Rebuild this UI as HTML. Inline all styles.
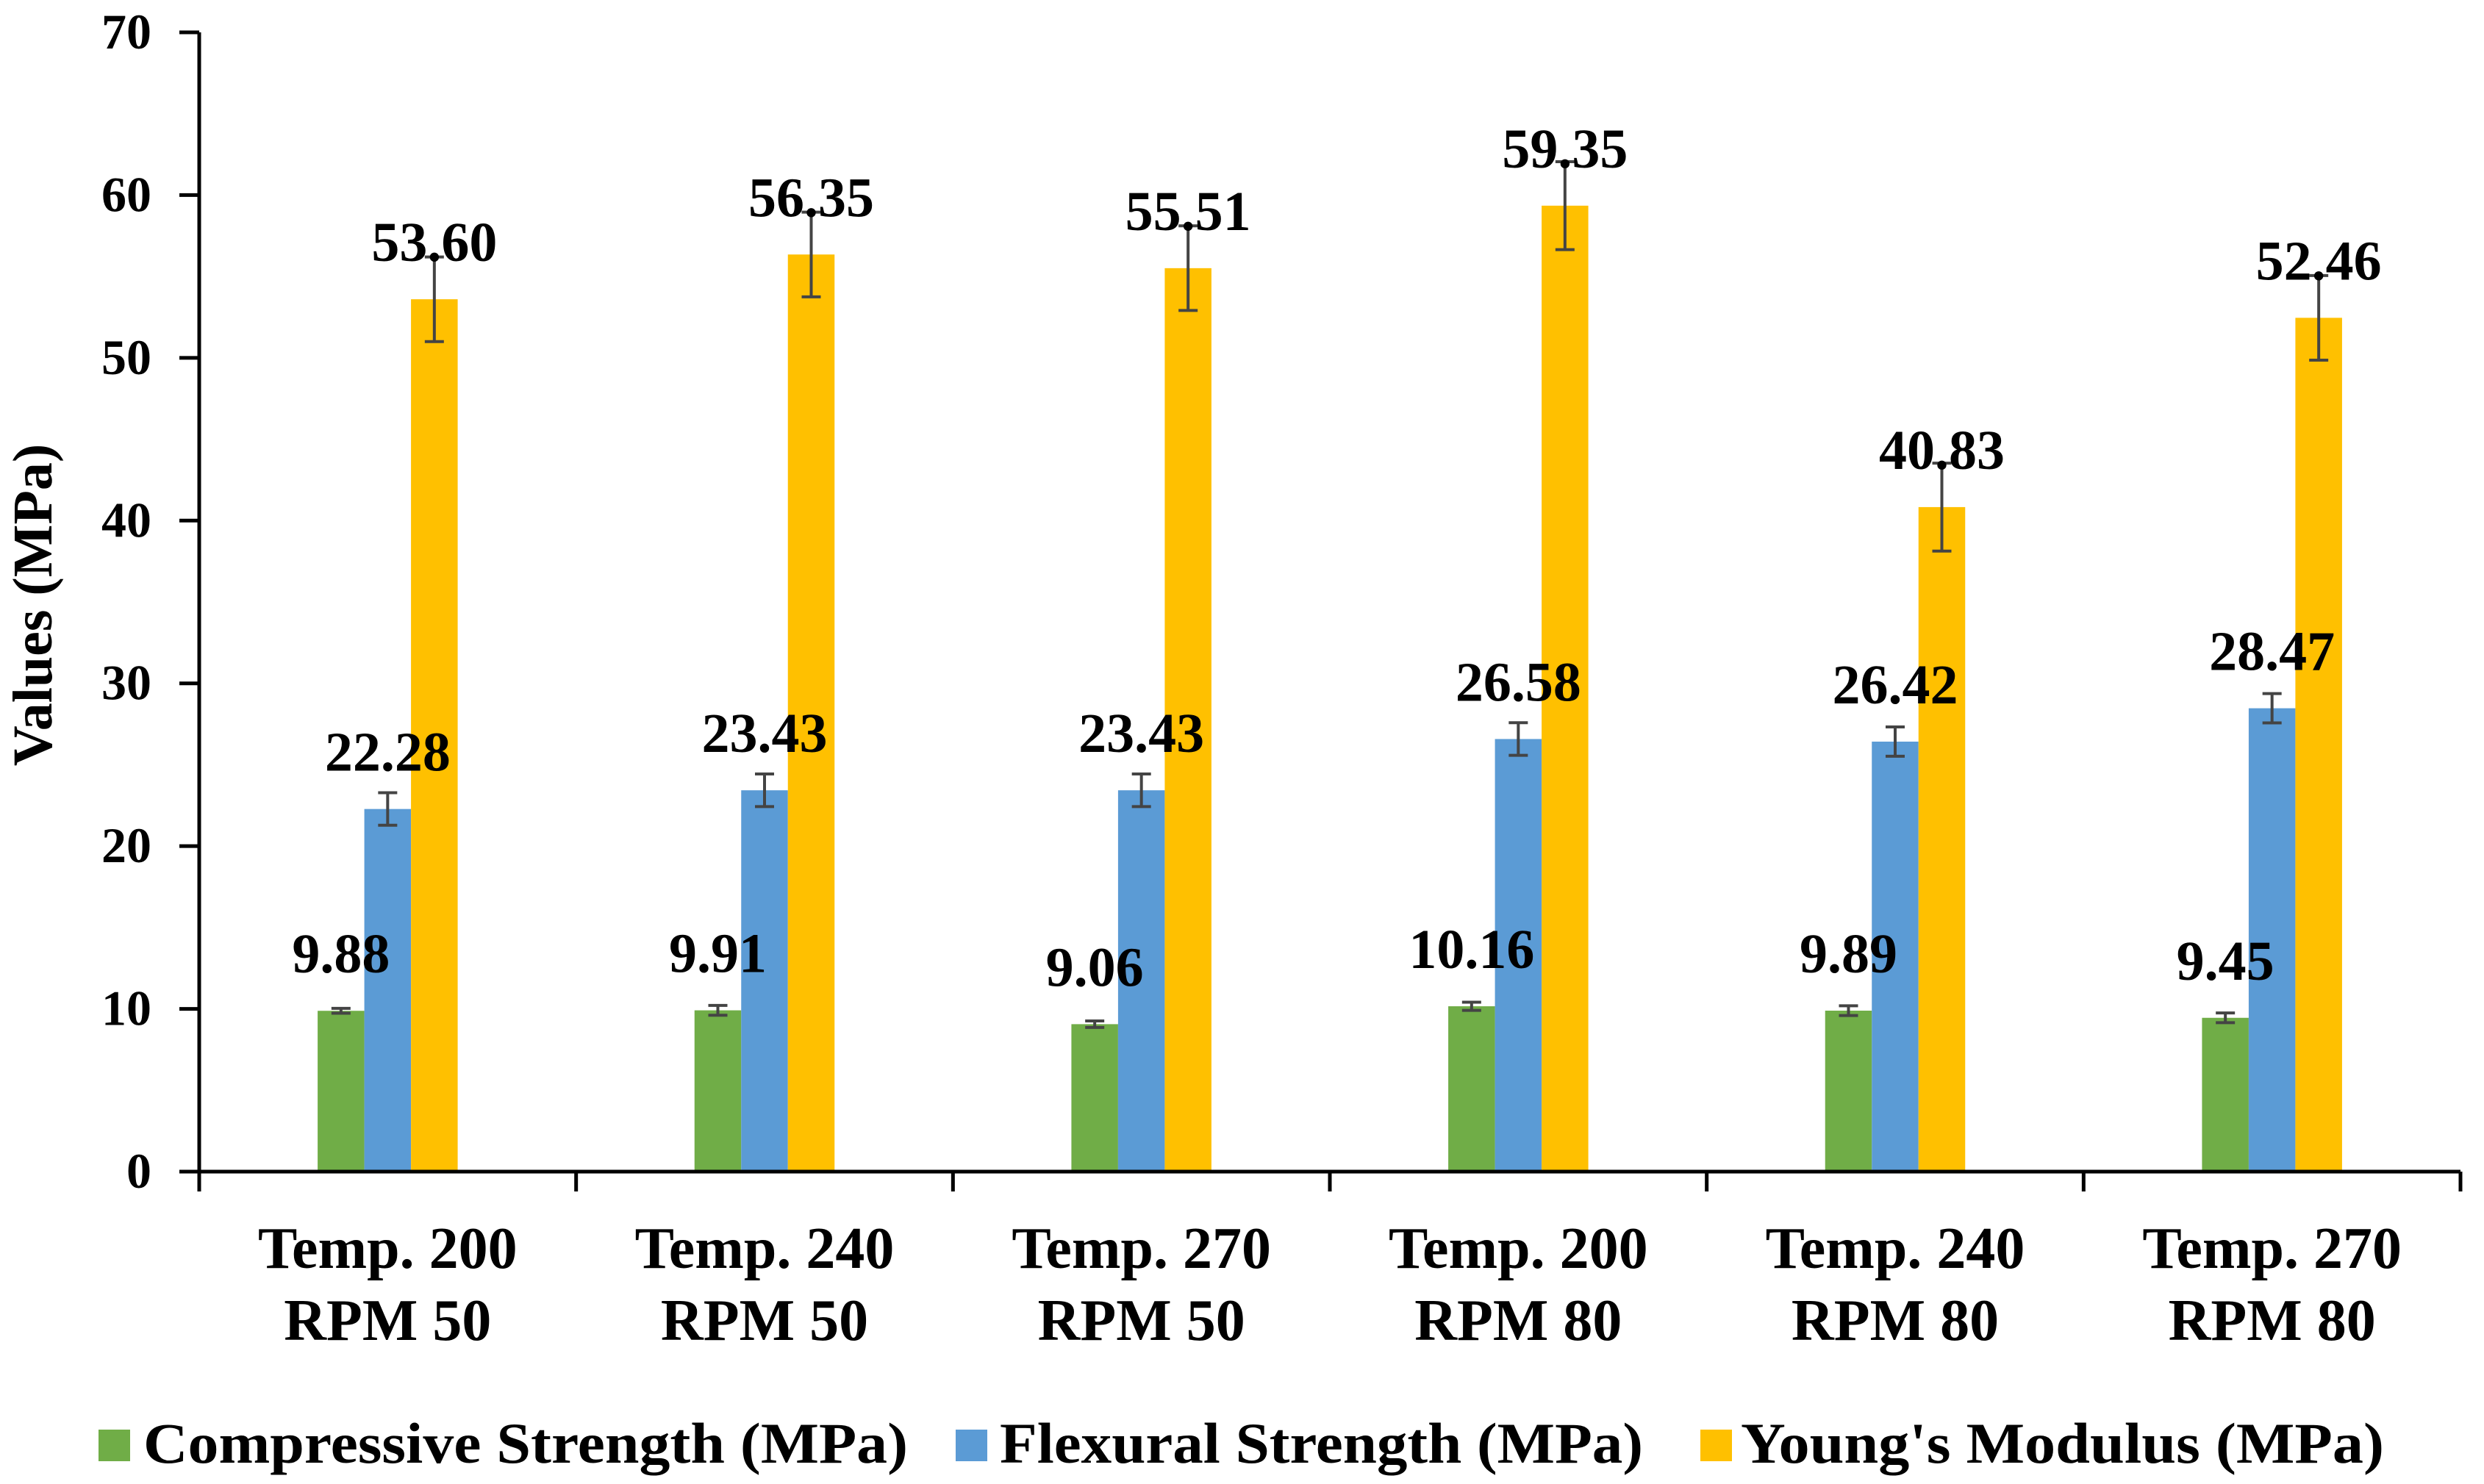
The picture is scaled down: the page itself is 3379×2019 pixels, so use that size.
<!DOCTYPE html>
<html><head><meta charset="utf-8"><style>
html,body{margin:0;padding:0;background:#fff;}
svg{display:block;}
svg text{font-family:"Liberation Serif","Times New Roman",serif;font-weight:bold;}
</style></head><body>
<svg id="chart" width="3379" height="2019" viewBox="0 0 3379 2019" xmlns="http://www.w3.org/2000/svg">
<g id="bars"></g>
<g id="labels"></g>
<g id="axes"></g>
<text x="0" y="0" transform="translate(70,823) rotate(-90)" text-anchor="middle" font-size="76" font-family="Liberation Serif, serif" font-weight="bold">Values (MPa)</text>
<g font-size="78" font-family="Liberation Serif, serif" font-weight="bold">
<rect x="134" y="1945" width="43" height="43" fill="#70AD47"/>
<text x="195" y="1990" textLength="1040" lengthAdjust="spacingAndGlyphs">Compressive Strength (MPa)</text>
<rect x="1300" y="1945" width="43" height="43" fill="#5B9BD5"/>
<text x="1360" y="1990" textLength="875" lengthAdjust="spacingAndGlyphs">Flexural Strength (MPa)</text>
<rect x="2313" y="1945" width="43" height="43" fill="#FFC000"/>
<text x="2368" y="1990" textLength="875" lengthAdjust="spacingAndGlyphs">Young's Modulus (MPa)</text>
</g>
</svg>
<script>
const categoriesLine1 = ["Temp. 200","Temp. 240","Temp. 270","Temp. 200","Temp. 240","Temp. 270"];
const categoriesLine2 = ["RPM 50","RPM 50","RPM 50","RPM 80","RPM 80","RPM 80"];
const compressive = [9.88,9.91,9.06,10.16,9.89,9.45];
const flexural = [22.28,23.43,23.43,26.58,26.42,28.47];
const youngs = [53.60,56.35,55.51,59.35,40.83,52.46];
const compressiveErr = [0.15,0.3,0.2,0.25,0.3,0.3];
const flexuralErr = [1.0,1.0,1.0,1.0,0.9,0.9];
const youngsErr = [2.6,2.6,2.6,2.7,2.7,2.6];
const yTicks = [0,10,20,30,40,50,60,70];

const NS="http://www.w3.org/2000/svg";
const X0=271,X1=3347,Y0=1594,Y70=44,YMAX=70;
const catW=(X1-X0)/categoriesLine1.length;
const barW=63.5;
function yS(v){return Y0-(v/YMAX)*(Y0-Y70);}
function xC(i){return X0+catW*(i+0.5);}
function mk(tag,attrs,parent){const e=document.createElementNS(NS,tag);for(const k in attrs)e.setAttribute(k,attrs[k]);parent.appendChild(e);return e;}
const bars=document.getElementById('bars'),axes=document.getElementById('axes'),labels=document.getElementById('labels');
const series=[{d:compressive,e:compressiveErr,c:"#70AD47",n:"compressive"},{d:flexural,e:flexuralErr,c:"#5B9BD5",n:"flexural"},{d:youngs,e:youngsErr,c:"#FFC000",n:"youngs"}];
series.forEach((s,si)=>{
  s.d.forEach((v,i)=>{
    const cx=xC(i)+(si-1)*barW;
    const r=mk('rect',{x:cx-barW/2,y:yS(v),width:barW,height:Y0-yS(v),fill:s.c},bars);
    
    
    const eb=mk('path',{d:`M${cx},${yS(v+s.e[i])}V${yS(v-s.e[i])}M${cx-13},${yS(v+s.e[i])}h26M${cx-13},${yS(v-s.e[i])}h26`,stroke:"#444",'stroke-width':4,fill:"none"},bars);
    
    
    const t=mk('text',{x:cx,y:yS(v)-52,'text-anchor':'middle','font-size':76},labels);
    t.textContent=v.toFixed(2);
    
    
  });
});
const ax=mk('path',{d:`M${X0},${Y70}V${Y0}H${X1}`,stroke:"#000",'stroke-width':5,fill:"none"},axes);


yTicks.forEach(t=>{
  const l=mk('line',{x1:X0-27,x2:X0,y1:yS(t),y2:yS(t),stroke:"#000",'stroke-width':5},axes);
  
  
  const tx=mk('text',{x:206,y:yS(t)+22,'text-anchor':'end','font-size':68},axes);
  tx.textContent=t;
  
  
});
for(let i=0;i<=categoriesLine1.length;i++){
  const l=mk('line',{x1:X0+catW*i,x2:X0+catW*i,y1:Y0,y2:Y0+27,stroke:"#000",'stroke-width':5},axes);
  
  
}
categoriesLine1.forEach((c,i)=>{
  const t=mk('text',{x:xC(i),y:1725,'text-anchor':'middle','font-size':80},axes);
  t.textContent=c;
  
  
  const t2=mk('text',{x:xC(i),y:1823,'text-anchor':'middle','font-size':80},axes);
  t2.textContent=categoriesLine2[i];
  
  
});
</script>
</body></html>
